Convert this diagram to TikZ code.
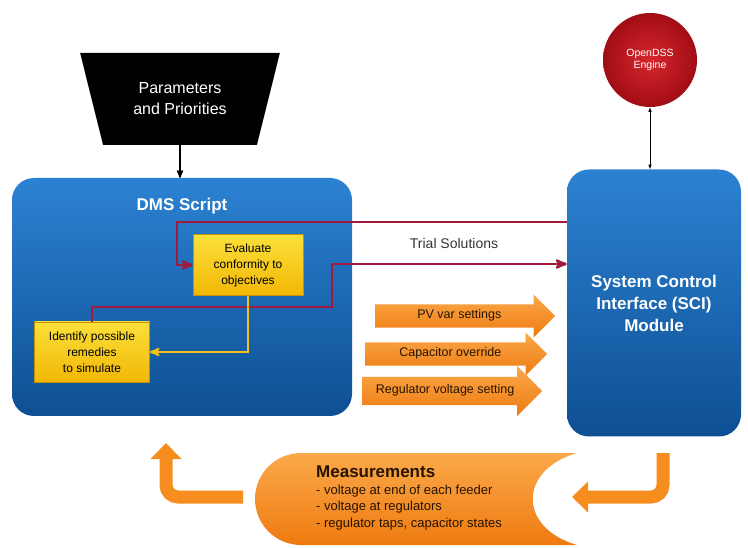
\documentclass[tikz,border=0pt]{standalone}
\usepackage{fontspec}
\setmainfont{Liberation Sans}
\usetikzlibrary{shapes,arrows,arrows.meta,positioning}
\definecolor{blueL}{HTML}{2C82D2}
\definecolor{blueD}{HTML}{0E4F93}
\definecolor{yelL}{HTML}{FBE03A}
\definecolor{yelD}{HTML}{F2B705}
\definecolor{yelLine}{HTML}{F3C21A}
\definecolor{redLine}{HTML}{9E1B3C}
\definecolor{orL}{HTML}{FBA94A}
\definecolor{orD}{HTML}{EE7A10}
\definecolor{orM}{HTML}{F58E1E}
\definecolor{dssIn}{HTML}{D7262E}
\definecolor{dssOut}{HTML}{A20D15}
\tikzstyle{every picture}=[>=stealth']
\tikzstyle{bluebox}=[rectangle, rounded corners=22pt, top color=blueL, bottom color=blueD, text=white, font=\fontsize{17}{22}\selectfont\bfseries, align=center]
\tikzstyle{yelbox}=[rectangle, draw=yelD!80!black, line width=0.6pt, top color=yelL, bottom color=yelD, align=center, font=\fontsize{12}{16}\selectfont, inner sep=2pt]
\tikzstyle{redline}=[draw=redLine, line width=2.6pt]
\tikzstyle{yelline}=[draw=yelLine, line width=2.2pt]
\tikzstyle{oarrow}=[single arrow, single arrow head extend=10pt, top color=orL, bottom color=orD, font=\fontsize{12.5}{14}\selectfont, text=black!85!orange, inner xsep=2pt, anchor=tail]
\tikzstyle{obend}=[draw=orM, line width=13pt, rounded corners=12pt, -{Triangle[width=30pt,length=16pt]}]

\begin{document}
\begin{tikzpicture}[x=1pt, y=-1pt]
	\useasboundingbox (0,0) rectangle (748,548);
	\node[trapezium, trapezium stretches=true, shape border rotate=180, trapezium angle=69, minimum width=200pt, minimum height=92pt, fill=black, text=white, align=center, font=\fontsize{16}{21}\selectfont] (param) at (180,99) {Parameters\\and Priorities};
	\node[bluebox, minimum width=340pt, minimum height=238pt] (dms) at (182,297) {};
	\node[text=white, font=\fontsize{17}{20}\selectfont\bfseries] (dmstitle) at (182,206) {DMS Script};
	\node[bluebox, minimum width=174pt, minimum height=267pt] (sci) at (654,303) {System Control\\Interface (SCI)\\Module};
	\node[circle, minimum size=94pt, inner color=dssIn, outer color=dssOut, text=white, align=center, font=\fontsize{10.5}{12}\selectfont] (dss) at (650,60) {OpenDSS\\Engine};
	\node[yelbox, minimum width=110pt, minimum height=61pt] (eval) at (248,265) {Evaluate\\conformity to\\objectives};
	\node[yelbox, minimum width=115pt, minimum height=60pt] (ident) at (92,352) {Identify possible\\remedies\\to simulate};
	\node[font=\fontsize{14}{16}\selectfont, text=black!80] (trial) at (454,243) {Trial Solutions};
	\node[oarrow, minimum height=180pt, text height=9pt, text depth=3pt, inner ysep=5.5pt] (pv) at (375,316) {PV var settings};
	\node[oarrow, minimum height=182pt, text height=9pt, text depth=3pt, inner ysep=5.5pt] (cap) at (365,354) {Capacitor override};
	\node[oarrow, minimum height=180pt, text height=9pt, text depth=3pt, inner ysep=8pt, single arrow head extend=11pt] (reg) at (362,391) {Regulator voltage setting};
	\coordinate (r1) at (177,222);
	\coordinate (r2) at (332,307);
	\coordinate (r3) at (332,264);
	\draw[redline,->] (sci.west |- r1) -- (r1) |- (eval.west);
	\draw[redline,->] (ident.north) |- (r2) -- (r3) -- (sci.west |- r3);
	\draw[yelline,->] (eval.south) |- (ident.east);
	\draw[->, line width=1.6pt] (param.south) -- (param.south |- dms.north);
	\draw[<->, line width=0.6pt, >=latex] (dss.south) -- (dss.south |- sci.north);
	\path[top color=orL, bottom color=orD] (577,453) -- (301,453) arc[start angle=270, end angle=90, radius=46] -- (577,545) .. controls (518,528) and (518,470) .. (577,453);
	\node[anchor=north west, align=left, inner sep=0pt, text=black!85!orange, font=\fontsize{13}{16.5}\selectfont] (meas) at (316,466) {{\fontsize{17}{17}\selectfont\bfseries Measurements}\\- voltage at end of each feeder\\- voltage at regulators\\- regulator taps, capacitor states};
	\coordinate (mL) at (243,497);
	\coordinate (mLtip) at (166,443);
	\coordinate (mR) at (663,453);
	\coordinate (mRtip) at (572,497);
	\draw[obend] (mL) -| (mLtip);
	\draw[obend] (mR) |- (mRtip);
\end{tikzpicture}
\end{document}
